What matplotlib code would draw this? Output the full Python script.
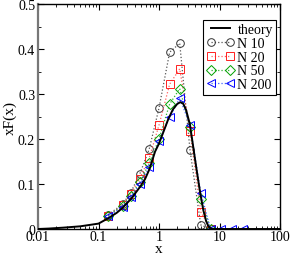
import matplotlib
matplotlib.use('Agg')
import matplotlib.pyplot as plt
from matplotlib.ticker import LogLocator, FixedLocator, NullFormatter

plt.rcParams['font.family'] = ['Liberation Serif', 'DejaVu Serif']

# theory curve
x_th = [0.01, 0.015, 0.026, 0.05, 0.1, 0.145, 0.2, 0.25, 0.35, 0.5, 0.588, 0.7, 0.86, 1.0,
        1.2, 1.42, 1.7, 2.0, 2.25, 2.5, 2.8, 3.25, 3.7, 4.2, 4.8, 5.4, 6.0, 6.5, 7.0, 7.6, 10, 100]
y_th = [0.0, 0.001, 0.003, 0.006, 0.012, 0.024, 0.036, 0.047, 0.068, 0.096, 0.111, 0.134, 0.172, 0.19,
        0.218, 0.244, 0.266, 0.278, 0.282, 0.279, 0.265, 0.232, 0.18, 0.13, 0.08, 0.042, 0.018, 0.007, 0.002, 0.0, 0.0, 0.0]

# simulation points
x_pts = [0.145, 0.25, 0.34, 0.48, 0.69, 1.0, 1.5, 2.2, 3.25, 4.9, 7.1, 10.7, 16, 24]
y_n10 = [0.032, 0.055, 0.081, 0.122, 0.178, 0.269, 0.393, 0.413, 0.176, 0.009, 0.0]
y_n20 = [0.030, 0.053, 0.078, 0.112, 0.158, 0.231, 0.322, 0.356, 0.218, 0.038, 0.0]
y_n50 = [0.029, 0.052, 0.074, 0.104, 0.146, 0.200, 0.278, 0.312, 0.226, 0.067, 0.0]
y_n200 = [0.028, 0.050, 0.071, 0.100, 0.137, 0.196, 0.248, 0.291, 0.231, 0.081, 0.0, 0.0, 0.0, 0.0]

x_ticks = [0.01, 0.1, 1, 10, 100]
x_ticklabels = ['0.01', '0.1', '1', '10', '100']
y_ticks = [0, 0.1, 0.2, 0.3, 0.4, 0.5]
y_ticklabels = ['0', '0.1', '0.2', '0.3', '0.4', '0.5']

fig = plt.figure(figsize=(2.91, 2.55), dpi=100)
ax = fig.add_axes([0.1306, 0.098, 0.8316, 0.882])

ax.plot(x_th, y_th, color='black', lw=1.4, label='theory', zorder=5)
ms = 5.5
ax.plot(x_pts[:len(y_n10)], y_n10, ls=':', lw=0.9, color='#555555', marker='o', ms=ms,
        mfc='none', mec='#333333', mew=0.7, label='N 10')
ax.plot(x_pts[:len(y_n20)], y_n20, ls=':', lw=0.9, color='#ff6060', marker='s', ms=ms,
        mfc='none', mec='#ff2020', mew=0.7, label='N 20')
ax.plot(x_pts[:len(y_n50)], y_n50, ls=':', lw=0.9, color='#30b030', marker='D', ms=ms - 0.8,
        mfc='none', mec='#00a000', mew=0.7, label='N 50')
ax.plot(x_pts[:len(y_n200)], y_n200, ls=':', lw=0.9, color='#4060ff', marker='<', ms=ms + 0.5,
        mfc='none', mec='#0000ff', mew=0.7, label='N 200')

ax.set_xscale('log')
ax.set_xlim(0.01, 100)
ax.set_ylim(0, 0.5)
ax.xaxis.set_major_locator(FixedLocator(x_ticks))
ax.set_xticklabels(x_ticklabels)
ax.xaxis.set_minor_locator(LogLocator(base=10, subs=range(2, 10)))
ax.xaxis.set_minor_formatter(NullFormatter())
ax.yaxis.set_major_locator(FixedLocator(y_ticks))
ax.set_yticklabels(y_ticklabels)
ax.yaxis.set_minor_locator(FixedLocator([0.05, 0.15, 0.25, 0.35, 0.45]))

ax.tick_params(which='both', direction='in', top=True, right=True, labelsize=10)
ax.tick_params(axis='x', pad=1)
ax.tick_params(axis='y', pad=2)
ax.tick_params(which='major', length=4, width=0.8)
ax.tick_params(which='minor', length=2, width=0.6)
for s in ax.spines.values():
    s.set_linewidth(1.0)
ax.spines['left'].set_color('#777777')
ax.spines['left'].set_linewidth(1.6)

ax.set_xlabel('x', fontsize=11, labelpad=-1)
ax.set_ylabel('xF(x)', fontsize=11, labelpad=1)

leg = ax.legend(loc='upper right', bbox_to_anchor=(0.985, 0.93), fontsize=10, frameon=True,
                fancybox=False, edgecolor='black', framealpha=1, numpoints=2, handlelength=2.0,
                handletextpad=0.2, borderpad=0.25, labelspacing=0.05, borderaxespad=0)
leg.get_frame().set_linewidth(0.8)

fig.savefig('out.png', dpi=100)
